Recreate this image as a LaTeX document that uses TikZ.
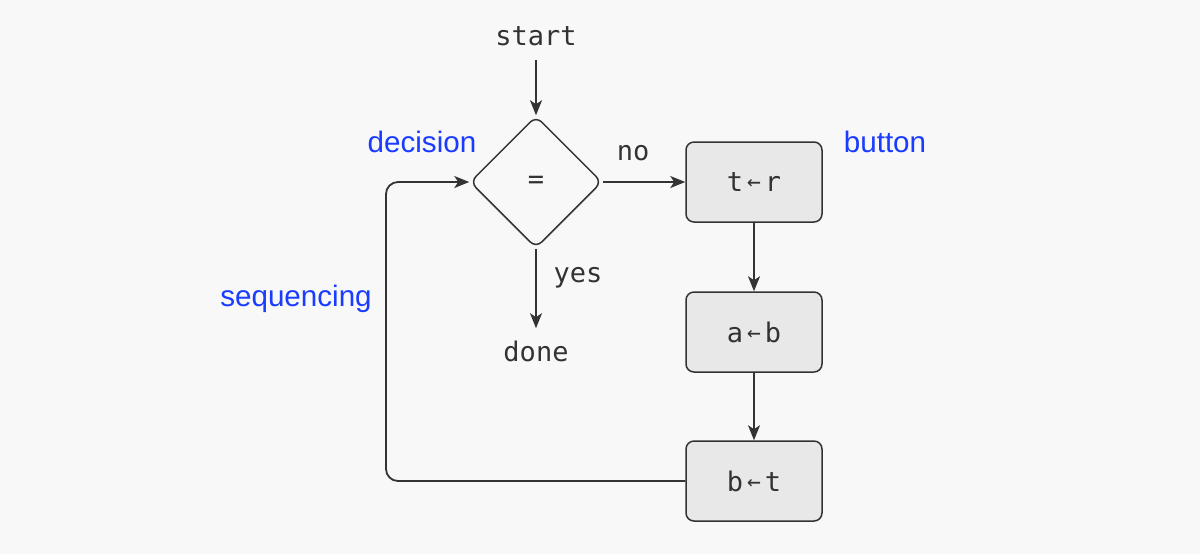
\documentclass[tikz,border=0pt]{standalone}
\usepackage{fontspec}
\setmainfont{Liberation Sans}
\newfontfamily\monof{DejaVu Sans Mono}
\usetikzlibrary{shapes.geometric,arrows.meta}
\definecolor{bg}{HTML}{F8F8F8}
\definecolor{ink}{HTML}{333333}
\definecolor{boxfill}{HTML}{E8E8E8}
\definecolor{lblue}{HTML}{1A3CFF}
\newcommand{\larr}{\hspace{2pt}\raisebox{1pt}{\scalebox{0.85}{←}}\hspace{2pt}}
\tikzset{
  txt/.style={font=\monof\fontsize{13.5}{16}\selectfont, text=ink, inner sep=2pt},
  stepbox/.style={draw=ink, line width=0.75pt, fill=boxfill, rounded corners=4pt,
    minimum width=68pt, minimum height=40pt, inner sep=0pt,
    font=\monof\fontsize{13.5}{16}\selectfont, text=ink},
  decbox/.style={draw=ink, line width=0.75pt, diamond, rounded corners=4pt,
    minimum width=66pt, minimum height=66pt, inner sep=0pt,
    font=\monof\fontsize{13.5}{16}\selectfont, text=ink},
  arr/.style={draw=ink, line width=0.9pt, -{Stealth[length=7.5pt,width=6pt,inset=2pt]}},
  note/.style={font=\fontsize{14.8}{17}\selectfont, text=lblue, inner sep=0pt}
}
\begin{document}
\begin{tikzpicture}[x=0.5pt,y=-0.5pt]
\fill[bg] (0,0) rectangle (1200,554);
\useasboundingbox (0,0) rectangle (1200,554);

\node[txt] (start) at (536,36) {start};
\node[decbox] (d) at (536,182) {=};
\node[stepbox] (b1) at (754,182) {t\larr r};
\node[stepbox] (b2) at (754,332) {a\larr b};
\node[stepbox] (b3) at (754,481) {b\larr t};
\node[txt] (done) at (536,351) {done};
\node[txt] (no) at (633,153) {no};
\node[txt] (yes) at (578,278) {yes};
\coordinate (lp) at (386,481);

\node[note] (ldec) at (422,142) {decision};
\node[note] (lbut) at (885,142) {button};
\node[note] (lseq) at (296,299) {sequencing};

\draw[arr] ([yshift=-5pt]start.south) -- (d.north);
\draw[arr] (d.east) -- (b1.west);
\draw[arr] (d.south) -- ([yshift=4pt]done.north);
\draw[arr] (b1.south) -- (b2.north);
\draw[arr] (b2.south) -- (b3.north);
\draw[arr, rounded corners=6pt] (b3.west) -- (lp) |- (d.west);
\end{tikzpicture}
\end{document}
